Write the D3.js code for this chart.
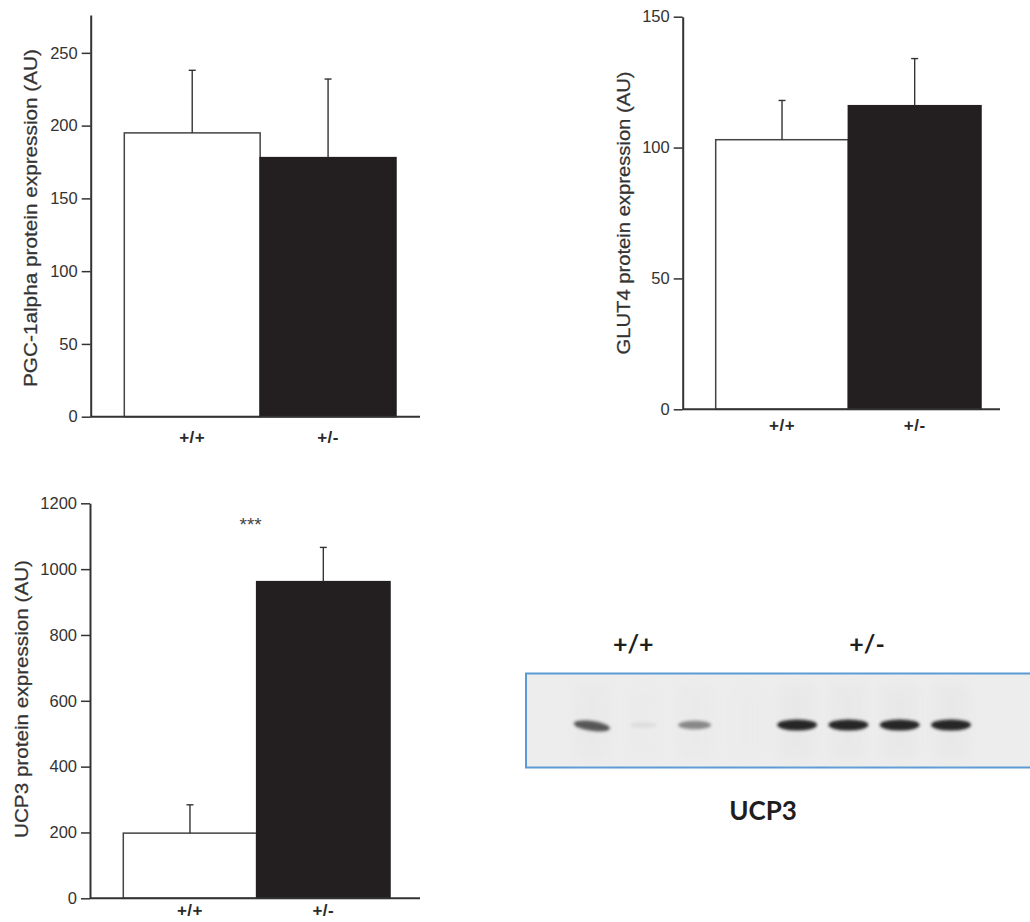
<!DOCTYPE html>
<html>
<head>
<meta charset="utf-8">
<script src="https://cdn.jsdelivr.net/npm/d3@7"></script>
<style>
  html, body { margin: 0; padding: 0; background: #fff; }
  svg { display: block; }
</style>
</head>
<body>
<svg id="fig" width="1030" height="922"></svg>
<script>
// ---------- data ----------
const genotypes = ["+/+", "+/-"];

const pgcMeans = [195, 178];
const pgcSem = [43, 54];
const pgcTicks = [0, 50, 100, 150, 200, 250];

const glutMeans = [103, 116];
const glutSem = [15, 18];
const glutTicks = [0, 50, 100, 150];

const ucpMeans = [198, 962];
const ucpSem = [86, 104];
const ucpTicks = [0, 200, 400, 600, 800, 1000, 1200];
const ucpSignificance = "***";

// western blot: relative band intensity per lane
const blotLanes = [0, 1, 2, 3, 4, 5, 6, 7];
const blotIntensity = [0.75, 0.06, 0.5, 0.0, 1.0, 1.0, 1.0, 1.0];
const blotGroups = ["+/+", "+/-"];
const blotTitle = "UCP3";

// ---------- drawing ----------
const svg = d3.select("#fig");
const barFill = ["#ffffff", "#231f20"];
const ink = "#333333";
const font = "'Liberation Sans', Arial, sans-serif";

function panel(cfg) {
  const g = svg.append("g");
  const y = d3.scaleLinear().domain(cfg.domain).range(cfg.yRange);
  const x = d3.scaleBand().domain(genotypes).range(cfg.xRange).padding(0);

  // bars
  g.selectAll("rect.bar").data(cfg.means).join("rect")
    .attr("class", "bar")
    .attr("x", (d, i) => x(genotypes[i]))
    .attr("width", x.bandwidth())
    .attr("y", d => y(d))
    .attr("height", d => y(0) - y(d))
    .attr("fill", (d, i) => barFill[i])
    .attr("stroke", (d, i) => i === 0 ? "#444" : barFill[i])
    .attr("stroke-width", 1.5);

  // error bars
  const eb = g.selectAll("g.err").data(cfg.means).join("g").attr("class", "err");
  eb.append("line")
    .attr("x1", (d, i) => x(genotypes[i]) + x.bandwidth() / 2)
    .attr("x2", (d, i) => x(genotypes[i]) + x.bandwidth() / 2)
    .attr("y1", d => y(d))
    .attr("y2", (d, i) => y(d + cfg.sem[i]))
    .attr("stroke", ink).attr("stroke-width", 1.4);
  eb.append("line")
    .attr("x1", (d, i) => x(genotypes[i]) + x.bandwidth() / 2 - 3.5)
    .attr("x2", (d, i) => x(genotypes[i]) + x.bandwidth() / 2 + 3.5)
    .attr("y1", (d, i) => y(d + cfg.sem[i]))
    .attr("y2", (d, i) => y(d + cfg.sem[i]))
    .attr("stroke", ink).attr("stroke-width", 1.4);

  // x axis line
  g.append("line")
    .attr("x1", cfg.axisX).attr("x2", cfg.xAxisEnd)
    .attr("y1", y(0)).attr("y2", y(0))
    .attr("stroke", ink).attr("stroke-width", 2);

  // x axis labels
  const xa = g.append("g")
    .attr("transform", `translate(0,${y(0)})`)
    .call(d3.axisBottom(x).tickSize(0).tickPadding(cfg.xLabelPad));
  xa.select(".domain").remove();
  xa.selectAll("text")
    .attr("font-family", font).attr("font-size", 17).attr("font-weight", "bold")
    .attr("letter-spacing", 0.5).attr("fill", "#2a2a2a");

  // y axis
  const ya = g.append("g")
    .attr("transform", `translate(${cfg.axisX},0)`)
    .call(d3.axisLeft(y).tickValues(cfg.ticks).tickFormat(d3.format("d"))
      .tickSize(9).tickSizeOuter(0).tickPadding(4));
  ya.select(".domain").attr("stroke", ink).attr("stroke-width", 2);
  ya.selectAll(".tick line").attr("stroke", ink).attr("stroke-width", 1.5);
  ya.selectAll("text").attr("font-family", font).attr("font-size", 16.5).attr("fill", "#333");

  // y label
  g.append("text")
    .attr("transform", `translate(${cfg.labelX},${cfg.labelY}) rotate(-90)`)
    .attr("text-anchor", "middle")
    .attr("dominant-baseline", "central")
    .attr("font-family", font).attr("font-size", 19).attr("fill", "#333")
    .attr("stroke", "#333").attr("stroke-width", 0.25)
    .attr("textLength", cfg.labelLen).attr("lengthAdjust", "spacingAndGlyphs")
    .text(cfg.label);

  return { g, x, y };
}

panel({
  means: pgcMeans, sem: pgcSem, ticks: pgcTicks,
  domain: [0, 276], yRange: [416.7, 15],
  xRange: [124.3, 396], axisX: 90.7, xAxisEnd: 420, xLabelPad: 14,
  label: "PGC-1alpha protein expression (AU)", labelX: 30, labelY: 218, labelLen: 338
});

panel({
  means: glutMeans, sem: glutSem, ticks: glutTicks,
  domain: [0, 150], yRange: [409.3, 16.7],
  xRange: [715.7, 981], axisX: 682.7, xAxisEnd: 1000, xLabelPad: 10,
  label: "GLUT4 protein expression (AU)", labelX: 623, labelY: 213, labelLen: 283
});

const p3 = panel({
  means: ucpMeans, sem: ucpSem, ticks: ucpTicks,
  domain: [0, 1200], yRange: [898.3, 503.3],
  xRange: [123.3, 390], axisX: 90, xAxisEnd: 420, xLabelPad: 6,
  label: "UCP3 protein expression (AU)", labelX: 21, labelY: 699, labelLen: 278
});

// significance stars
p3.g.append("text")
  .attr("x", p3.x(genotypes[1]) - 6)
  .attr("y", p3.y(1115))
  .attr("text-anchor", "middle")
  .attr("font-family", font).attr("font-size", 19).attr("fill", "#444")
  .text(ucpSignificance);

// ---------- western blot ----------
const defs = svg.append("defs");
defs.append("filter").attr("id", "blur").attr("x", "-50%").attr("y", "-100%")
  .attr("width", "200%").attr("height", "300%")
  .append("feGaussianBlur").attr("stdDeviation", 1.6);
defs.append("filter").attr("id", "blur2").attr("x", "-50%").attr("y", "-50%")
  .attr("width", "200%").attr("height", "200%")
  .append("feGaussianBlur").attr("stdDeviation", 6);

const blot = svg.append("g");
const laneX = d3.scalePoint().domain(blotLanes).range([592, 951]);
const bandY = 725;

blot.append("rect")
  .attr("x", 526).attr("y", 673.5).attr("width", 510).attr("height", 94)
  .attr("fill", "#ededed").attr("stroke", "#5b9bd5").attr("stroke-width", 2);

// faint lane streaks
blot.selectAll("rect.streak").data(blotLanes).join("rect")
  .attr("class", "streak")
  .attr("x", d => laneX(d) - 18).attr("width", 36)
  .attr("y", 684).attr("height", 76)
  .attr("fill", "#e6e6e6").attr("opacity", (d, i) => 0.2 + 0.4 * blotIntensity[i])
  .attr("filter", "url(#blur2)");

const opac = d3.scaleLinear().domain([0, 1]).range([0, 0.95]);
blot.selectAll("ellipse.band").data(blotLanes).join("ellipse")
  .attr("class", "band")
  .attr("cx", d => laneX(d))
  .attr("cy", (d, i) => bandY + (i === 0 ? 1 : 0))
  .attr("rx", (d, i) => 13 + 7 * blotIntensity[i])
  .attr("ry", (d, i) => 3 + 2.5 * blotIntensity[i])
  .attr("fill", "#1a1a1a")
  .attr("opacity", (d, i) => opac(blotIntensity[i]))
  .attr("transform", (d, i) => i === 0 ? `rotate(8,${laneX(d)},${bandY})` : null)
  .attr("filter", "url(#blur)");

const blotFont = "Lato, 'Open Sans', sans-serif";
const groupCenters = [d3.mean([laneX(0), laneX(2)]) - 10, d3.mean([laneX(4), laneX(7)]) - 7];
blot.selectAll("text.grp").data(blotGroups).join("text")
  .attr("class", "grp")
  .attr("x", (d, i) => groupCenters[i]).attr("y", 653)
  .attr("text-anchor", "middle")
  .attr("font-family", blotFont).attr("font-weight", "bold").attr("font-size", 25)
  .attr("fill", "#1e1e1e")
  .text(d => d);

blot.append("text")
  .attr("x", 763).attr("y", 820)
  .attr("text-anchor", "middle")
  .attr("font-family", blotFont).attr("font-weight", "bold").attr("font-size", 26)
  .attr("fill", "#1e1e1e")
  .text(blotTitle);
</script>
</body>
</html>
